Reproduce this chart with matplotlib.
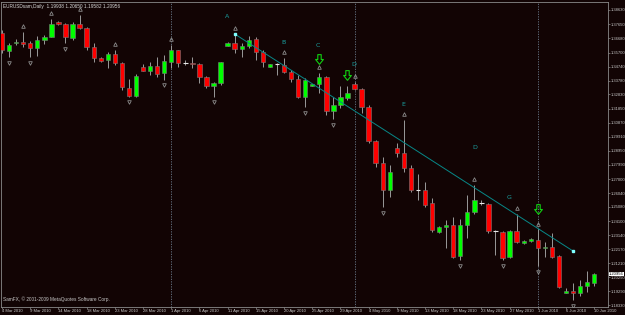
import numpy as np
import matplotlib
matplotlib.use('Agg')
from matplotlib import pyplot as plt
from matplotlib import transforms
from matplotlib.path import Path

# daily EURUSD candles, 4 Mar 2010 .. 10 Jun 2010 (broker has Sunday bars)
opens  = [1.3705,1.3581,1.3633,1.3643,1.3636,1.3602,1.3657,1.3677,1.3781,1.3767,
          1.3670,1.3767,1.3739,1.3609,1.3533,1.3519,1.3560,1.3499,1.3327,1.3271,
          1.3471,1.3443,1.3478,1.3430,1.3505,1.3588,1.3499,1.3499,1.3492,1.3402,
          1.3340,1.3361,1.3616,1.3636,1.3595,1.3616,1.3664,1.3574,1.3471,1.3492,
          1.3485,1.3437,1.3388,1.3265,1.3340,1.3354,1.3402,1.3168,1.3210,1.3258,
          1.3354,1.3320,1.3196,1.2962,1.2811,1.2625,1.2914,1.2879,1.2776,1.2625,
          1.2625,1.2535,1.2336,1.2370,1.2384,1.2171,1.2384,1.2473,1.2535,1.2528,
          1.2343,1.2336,1.2164,1.2343,1.2260,1.2274,1.2281,1.2226,1.2233,1.2171,
          1.1916,1.1930,1.1916,1.1964,1.1985]
highs  = [1.3726,1.3636,1.3664,1.3712,1.3650,1.3684,1.3691,1.3801,1.3788,1.3774,
          1.3781,1.3829,1.3746,1.3636,1.3540,1.3574,1.3588,1.3505,1.3388,1.3423,
          1.3492,1.3505,1.3540,1.3554,1.3622,1.3588,1.3519,1.3540,1.3499,1.3409,
          1.3368,1.3505,1.3643,1.3698,1.3636,1.3684,1.3677,1.3588,1.3492,1.3499,
          1.3533,1.3450,1.3416,1.3395,1.3354,1.3430,1.3409,1.3265,1.3340,1.3340,
          1.3368,1.3327,1.3210,1.2969,1.2852,1.2797,1.2948,1.3106,1.2797,1.2735,
          1.2680,1.2570,1.2377,1.2418,1.2439,1.2425,1.2590,1.2659,1.2556,1.2535,
          1.2350,1.2343,1.2350,1.2460,1.2281,1.2295,1.2356,1.2267,1.2329,1.2178,
          1.1951,1.1985,1.2006,1.2068,1.2054]
lows   = [1.3567,1.3540,1.3622,1.3609,1.3540,1.3547,1.3629,1.3677,1.3760,1.3636,
          1.3657,1.3732,1.3588,1.3505,1.3505,1.3464,1.3485,1.3313,1.3265,1.3265,
          1.3443,1.3416,1.3402,1.3382,1.3464,1.3471,1.3485,1.3464,1.3361,1.3327,
          1.3265,1.3347,1.3616,1.3567,1.3540,1.3602,1.3519,1.3471,1.3471,1.3416,
          1.3430,1.3368,1.3258,1.3196,1.3340,1.3292,1.3141,1.3113,1.3189,1.3244,
          1.3313,1.3155,1.2948,1.2783,1.2508,1.2577,1.2852,1.2749,1.2611,1.2556,
          1.2508,1.2336,1.2329,1.2226,1.2157,1.2143,1.2295,1.2460,1.2521,1.2329,
          1.2178,1.2143,1.2157,1.2260,1.2253,1.2267,1.2102,1.2164,1.2157,1.1951,
          1.1916,1.1868,1.1896,1.1923,1.1964]
closes = [1.3588,1.3622,1.3643,1.3629,1.3602,1.3657,1.3677,1.3767,1.3767,1.3677,
          1.3767,1.3739,1.3609,1.3533,1.3512,1.3560,1.3499,1.3333,1.3271,1.3409,
          1.3443,1.3478,1.3423,1.3512,1.3588,1.3499,1.3499,1.3492,1.3402,1.3340,
          1.3361,1.3505,1.3636,1.3595,1.3616,1.3657,1.3574,1.3505,1.3492,1.3492,
          1.3437,1.3388,1.3265,1.3382,1.3354,1.3402,1.3168,1.3210,1.3265,1.3292,
          1.3320,1.3196,1.2962,1.2811,1.2625,1.2749,1.2879,1.2776,1.2625,1.2625,
          1.2521,1.2350,1.2370,1.2384,1.2164,1.2384,1.2473,1.2556,1.2535,1.2343,
          1.2343,1.2157,1.2343,1.2267,1.2274,1.2288,1.2226,1.2233,1.2164,1.1957,
          1.1930,1.1916,1.1964,1.1992,1.2047]

date_labels = ["4 Mar 2010","9 Mar 2010","14 Mar 2010","18 Mar 2010","23 Mar 2010",
               "28 Mar 2010","1 Apr 2010","6 Apr 2010","11 Apr 2010","15 Apr 2010",
               "20 Apr 2010","25 Apr 2010","29 Apr 2010","4 May 2010","9 May 2010",
               "13 May 2010","18 May 2010","23 May 2010","27 May 2010","1 Jun 2010",
               "6 Jun 2010","10 Jun 2010"]
date_every = 4
month_starts = [24, 50, 76]

price_ticks = [1.3863,1.3765,1.3668,1.3570,1.3474,1.3378,1.3283,1.3185,1.3087,1.2991,
               1.2895,1.2799,1.2700,1.2604,1.2508,1.2410,1.2314,1.2217,1.2121,1.2025,
               1.1929,1.1833]

fractal_up = [3,7,11,16,24,33,40,45,50,57,67,73,76]
fractal_dn = [1,4,9,18,23,30,43,47,54,65,71,76,81]

# wave letters (bar, price)
wave_txt = ['A','B','C','D','E','D','G']
wave_bar = [31.9, 39.9, 44.8, 49.9, 56.9, 67.0, 71.9]
wave_px  = [1.3815, 1.3636, 1.3622, 1.3485, 1.3210, 1.2914, 1.2570]

arrow_bar = [45, 49, 76]
arrow_px  = [1.3526, 1.3416, 1.2494]

trend_bar = [33, 81]
trend_px  = [1.3698, 1.2205]

last_quote = "1.20956"
header = "EURUSDsam,Daily  1.19938 1.20650 1.19582 1.20956"

bg = '#120404'
grey = '#9a9a9a'
small = 'Liberation Sans'

# outlined block arrow pointing down
arrow_path = Path([(-0.35, 1), (0.35, 1), (0.35, 0), (0.8, 0), (0, -1),
                   (-0.8, 0), (-0.35, 0), (-0.35, 1)],
                  [Path.MOVETO] + [Path.LINETO]*6 + [Path.CLOSEPOLY])

fig = plt.figure(figsize=(6.25, 3.15), dpi=100, facecolor=bg)
ax = fig.add_axes([1/625, 1-307/315, 607/625, 305/315], facecolor=bg)

n = len(opens)
x = np.arange(n)
o = np.array(opens); h = np.array(highs); l = np.array(lows); c = np.array(closes)
w = 0.62

ax.vlines(x, l, h, color=grey, lw=0.7, zorder=2)
for i in range(n):
    if abs(c[i]-o[i]) < 0.0002:
        ax.hlines(o[i], i-w/2, i+w/2, color='#e8e8e8', lw=0.8, zorder=3)
        continue
    col = '#00ff00' if c[i] > o[i] else '#ff0000'
    lo = min(o[i], c[i])
    ax.bar(i, abs(c[i]-o[i]), bottom=lo, width=w, color=col,
           edgecolor='#7a7a7a', lw=0.4, zorder=3)

for m in month_starts:
    ax.axvline(m, color='#6a7a8a', lw=0.6, ls=(0, (1.5, 1.5)), zorder=1)

up_tr = transforms.offset_copy(ax.transData, fig=fig, x=0, y=4, units='points')
dn_tr = transforms.offset_copy(ax.transData, fig=fig, x=0, y=-4, units='points')
ax.plot(fractal_up, h[fractal_up], ls='none', marker='^', ms=2.6, mfc='none',
        mec='#8c8c8c', mew=0.6, transform=up_tr, zorder=4)
ax.plot(fractal_dn, l[fractal_dn], ls='none', marker='v', ms=2.6, mfc='none',
        mec='#8c8c8c', mew=0.6, transform=dn_tr, zorder=4)

ax.plot(trend_bar, trend_px, color='#078888', lw=0.7, zorder=5)
ax.plot(trend_bar, trend_px, ls='none', marker='s', ms=1.8, color='#7fffff', zorder=6)

for t, b, p in zip(wave_txt, wave_bar, wave_px):
    ax.text(b, p, t, color='#1aa0a0', fontsize=4.5, ha='center', va='center', zorder=6)
ax.plot(arrow_bar, arrow_px, ls='none', marker=arrow_path, ms=7, mfc='none',
        mec='#10d010', mew=0.8, zorder=6)

ax.text(0.004, 0.993, header, transform=ax.transAxes, color='#d8d8d8', fontsize=3.4,
        family=small, ha='left', va='top')
ax.text(0.004, 0.018, "SamFX, \u00a9 2001-2009 MetaQuotes Software Corp.", transform=ax.transAxes,
        color='#c8c8c8', fontsize=3.4, family=small, ha='left', va='bottom')

ax.set_xlim(-0.15, 85.96)
ax.set_ylim(1.1820, 1.3918)

ax.yaxis.tick_right()
ax.set_yticks(price_ticks)
ax.set_yticklabels(['%.5f' % p for p in price_ticks], family=small)
ax.set_xticks(np.arange(0, n, date_every))
ax.set_xticklabels(date_labels, ha='left', family=small)
ax.tick_params(axis='both', colors='#8a8a8a', labelcolor='#c8c8c8', labelsize=3.0,
               length=1.2, width=0.5, pad=0.4)
for s in ['top', 'right', 'bottom', 'left']:
    ax.spines[s].set_color('#8a8a8a')
    ax.spines[s].set_linewidth(0.6)

ax.text(1.0015, c[-1], last_quote, transform=ax.get_yaxis_transform(), fontsize=3.0,
        family=small, color='black', ha='left', va='center',
        bbox=dict(boxstyle='square,pad=0.05', fc='white', ec='none'))

fig.savefig('out.png', dpi=100, facecolor=bg)
